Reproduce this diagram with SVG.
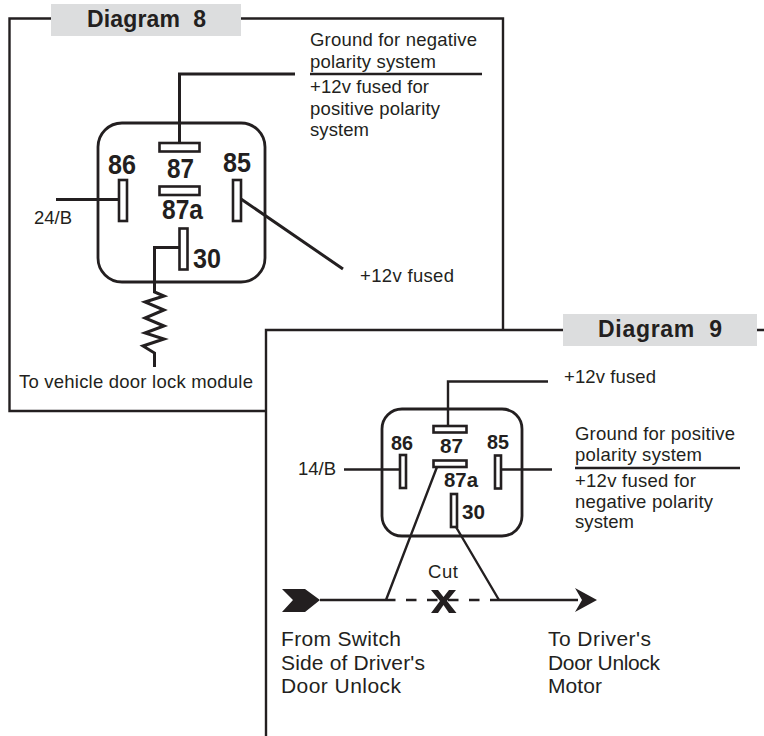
<svg xmlns="http://www.w3.org/2000/svg" width="764" height="736" viewBox="0 0 764 736">
<style>
text{font-family:"Liberation Sans",Arial,sans-serif;fill:#231f20}
.t{font-size:18.500px}
.l{font-size:21px}
.h{font-size:23px;font-weight:bold;white-space:pre}
.n{font-size:27px;font-weight:bold}
.m{font-size:21px;font-weight:bold}
.w{fill:none;stroke:#231f20;stroke-width:3}
.f{fill:none;stroke:#231f20;stroke-width:2.4}
.b{fill:#fff;stroke:#231f20;stroke-width:2.8}
.p{fill:#fff;stroke:#231f20;stroke-width:2.6}
.g{fill:#dcddde}
</style>
<g id="diagram-8">
<path class="f" d="M51 18.500H9.500V411H265M241 18.500H503V330"/>
<rect class="g" x="51" y="4" width="190" height="32"/>
<text class="h" x="87" y="26.500" textLength="119" xml:space="preserve">Diagram  8</text>
</g>
<g id="relay-8">
<rect class="b" x="98" y="123" width="167" height="159" rx="24"/>
<text class="n" x="108" y="174" textLength="28" lengthAdjust="spacingAndGlyphs">86</text>
<text class="n" x="167" y="178" textLength="27" lengthAdjust="spacingAndGlyphs">87</text>
<text class="n" x="223" y="172" textLength="28" lengthAdjust="spacingAndGlyphs">85</text>
<text class="n" x="162" y="219" textLength="41" lengthAdjust="spacingAndGlyphs">87a</text>
<text class="n" x="193" y="268" textLength="28" lengthAdjust="spacingAndGlyphs">30</text>
</g>
<g id="pins-8">
<rect class="p" x="159.500" y="143" width="40" height="8.500"/>
<rect class="p" x="159.500" y="186.500" width="40" height="8.500"/>
<rect class="p" x="119" y="180" width="8" height="41"/>
<rect class="p" x="233" y="180" width="8" height="41"/>
<rect class="p" x="179.500" y="228.500" width="8" height="41"/>
</g>
<g id="labels-8">
<text class="t" x="310" y="46" textLength="167">Ground for negative</text>
<text class="t" x="310" y="68" textLength="126">polarity system</text>
<text class="t" x="310" y="92.500" textLength="119">+12v fused for</text>
<text class="t" x="310" y="115" textLength="130">positive polarity</text>
<text class="t" x="310" y="136" textLength="59">system</text>
<text class="t" x="34" y="224" textLength="38">24/B</text>
<text class="t" x="360" y="282" textLength="94">+12v fused</text>
<text class="t" x="19" y="388" textLength="234">To vehicle door lock module</text>
</g>
<g id="diagram-9">
<path class="f" d="M563 330H266V736M757 330H764"/>
<rect class="g" x="563" y="314" width="194" height="32"/>
<text class="h" x="598" y="337" textLength="124" xml:space="preserve">Diagram  9</text>
</g>
<g id="relay-9">
<rect class="b" x="382" y="409" width="140" height="127" rx="20"/>
<text class="m" x="391" y="450" textLength="22" lengthAdjust="spacingAndGlyphs">86</text>
<text class="m" x="440" y="453" textLength="23" lengthAdjust="spacingAndGlyphs">87</text>
<text class="m" x="487" y="449" textLength="22" lengthAdjust="spacingAndGlyphs">85</text>
<text class="m" x="444" y="487" textLength="34" lengthAdjust="spacingAndGlyphs">87a</text>
<text class="m" x="462" y="519" textLength="23" lengthAdjust="spacingAndGlyphs">30</text>
</g>
<g id="pins-9">
<rect class="p" x="433.500" y="426" width="33" height="6.500"/>
<rect class="p" x="433.500" y="460.500" width="33" height="6.500"/>
<rect class="p" x="400" y="455" width="6" height="33"/>
<rect class="p" x="495" y="455.500" width="6" height="33"/>
<rect class="p" x="451" y="494" width="6" height="33"/>
</g>
<g id="labels-9">
<text class="t" x="564" y="383" textLength="92">+12v fused</text>
<text class="t" x="575" y="440" textLength="160">Ground for positive</text>
<text class="t" x="575" y="461" textLength="127">polarity system</text>
<text class="t" x="575" y="487" textLength="121">+12v fused for</text>
<text class="t" x="575" y="508" textLength="138">negative polarity</text>
<text class="t" x="575" y="528" textLength="59">system</text>
<text class="t" x="298" y="475" textLength="38">14/B</text>
<text class="t" x="428" y="578" textLength="30">Cut</text>
<text class="l" x="281" y="646" textLength="120">From Switch</text>
<text class="l" x="281" y="670" textLength="144">Side of Driver's</text>
<text class="l" x="281" y="693" textLength="120">Door Unlock</text>
<text class="l" x="548" y="646" textLength="103">To Driver's</text>
<text class="l" x="548" y="670" textLength="112">Door Unlock</text>
<text class="l" x="548" y="693" textLength="54">Motor</text>
</g>
<g id="connectors">
<path class="w" d="M179.500 143V74H295M56 199.500H119M241 199L343 269M179.500 247.500H154.500V292L164 296L145 302L164 310L145 318L164 326L145 333L164 339L143 346L154.500 353V367"/>
<path class="f" d="M310 74H482M575 468H740M448 426V381.500H548M344 469.500H400M501 469.500H552M437 467L386 600M456 527L499 600M320 600H385M500 600H578"/>
<path class="f" stroke-dasharray="10.500 10.500" d="M385 600H500"/>
<path fill="#231f20" d="M431 590H438L443.500 597L449 590H456L447 601L456.500 613H449L443.500 605L438 613H431L440 601Z"/>
<path fill="#231f20" d="M282 589H305L320 600L305 612H282L293 600Z"/>
<path fill="#231f20" d="M575 588L597 600L575 612L582 600Z"/>
</g>
</svg>
